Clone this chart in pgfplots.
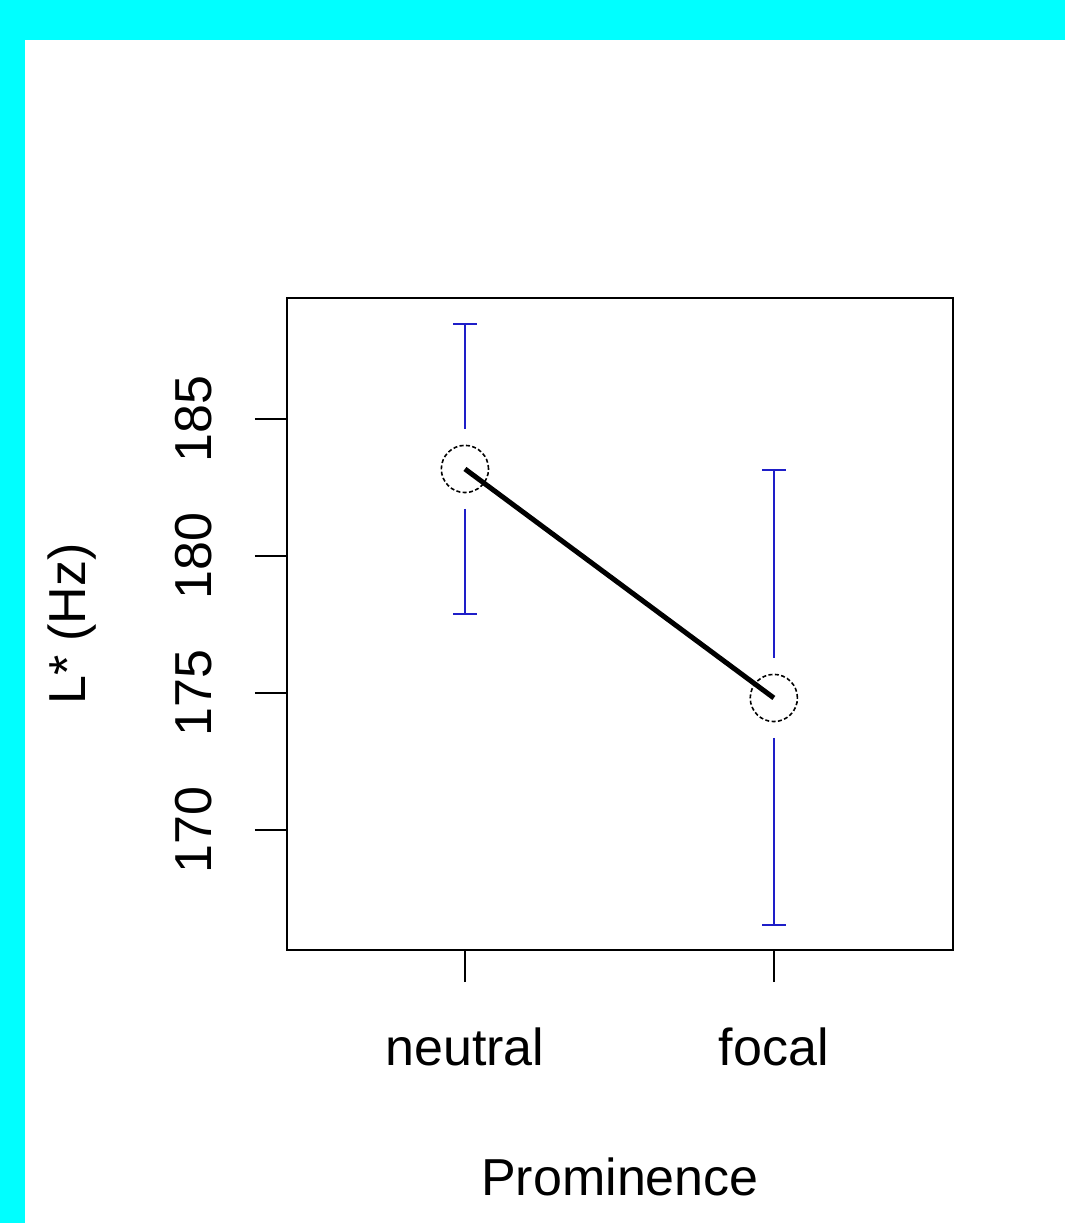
\documentclass[border=0pt]{standalone}
\usepackage{pgfplots}
\pgfplotsset{compat=1.18}
\usepackage{fontspec}
\setmainfont{Liberation Sans}
\definecolor{errblue}{RGB}{30,30,200}
\definecolor{bgcyan}{RGB}{0,255,255}
\begin{document}
\fontsize{13}{15.6}\selectfont
\begin{tikzpicture}
\fill[bgcyan] (0,0) rectangle (266.25pt,-305.75pt);
\fill[white] (6.25pt,-10pt) rectangle (266.25pt,-305.75pt);
\begin{axis}[
  at={(71.75pt,-74.5pt)}, anchor=north west,
  scale only axis, width=166.5pt, height=163pt,
  xmin=0.424, xmax=2.58, ymin=165.62, ymax=189.42,
  xtick={1,2}, xticklabels={neutral,focal},
  ytick={170,175,180,185},
  tick align=outside, major tick length=8pt,
  xtick pos=bottom, ytick pos=left,
  axis line style={line width=0.45pt},
  every tick/.style={black, line width=0.45pt},
  /pgf/number format/assume math mode=true,
  yticklabel style={xshift=-10.75pt, rotate=90, anchor=base, inner sep=0pt},
  xticklabel style={yshift=-20.75pt, anchor=base, inner sep=0pt},
  typeset ticklabels with strut=false,
  xlabel={Prominence}, ylabel={L* (Hz)},
  xlabel style={at={(axis description cs:0.5,-0.3758)}, anchor=base, inner sep=0pt},
  ylabel style={at={(axis description cs:-0.3033,0.5)}, rotate=0, anchor=base, inner sep=0pt},
  clip=false,
]
% error bars (upper and lower segments, with gap round the mean)
\addplot[errblue, line width=0.4pt] coordinates {(1,188.47) (1,184.64)};
\addplot[errblue, line width=0.4pt] coordinates {(1,181.72) (1,177.88)};
\addplot[errblue, line width=0.4pt] coordinates {(2,183.14) (2,176.28)};
\addplot[errblue, line width=0.4pt] coordinates {(2,173.36) (2,166.53)};
\addplot[errblue, only marks, mark=-, mark size=3pt, mark options={line width=0.4pt}]
  coordinates {(1,188.47) (1,177.88) (2,183.14) (2,166.53)};
% means
\addplot[only marks, mark=o, mark size=5.9pt, mark options={black, line width=0.4pt, dash pattern=on 1pt off 0.6pt}]
  coordinates {(1,183.18) (2,174.82)};
\addplot[black, line width=1.25pt] coordinates {(1,183.18) (2,174.82)};
\end{axis}
\end{tikzpicture}
\end{document}
